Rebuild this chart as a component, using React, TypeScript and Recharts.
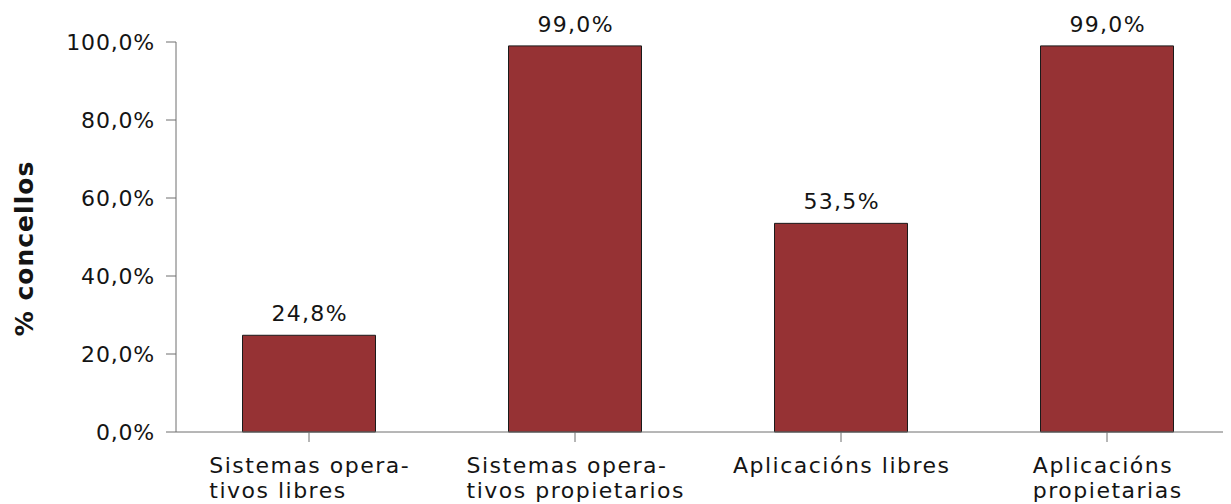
import React from "react";
import { BarChart, Bar, XAxis, YAxis, LabelList, Label } from "recharts";

const categories = [
  "Sistemas opera-\ntivos libres",
  "Sistemas opera-\ntivos propietarios",
  "Aplicacións libres",
  "Aplicacións\npropietarias",
];
const values = [24.8, 99.0, 53.5, 99.0];
const yTicks = [0, 20, 40, 60, 80, 100];
const yLabel = "% concellos";

const data = categories.map((c, i) => ({ name: c, value: values[i] }));

const FONT = '"DejaVu Sans", Verdana, sans-serif';
const FS = 22;
const LS_X = 1.5;
const LS_Y = 0.8;
const LS_BAR = 1.3;
const TEXT = "#141414";
const AXIS = "#6e6e6e";

const fmt = (v: number) => v.toFixed(1).replace(".", ",") + "%";

let ctx: CanvasRenderingContext2D | null = null;
function measure(s: string) {
  if (!ctx) {
    const c = document.createElement("canvas");
    ctx = c.getContext("2d");
  }
  if (!ctx) return s.length * FS * 0.6;
  ctx.font = `${FS}px ${FONT}`;
  return ctx.measureText(s).width + LS_X * (s.length - 1);
}

const XTick = (props: any) => {
  const { x, y, payload } = props;
  const lines = String(payload.value).split("\n");
  const w = Math.max(...lines.map(measure));
  const sx = x - w / 2;
  return (
    <text x={sx} y={y} fill={TEXT} fontSize={FS} fontFamily={FONT} letterSpacing={LS_X} textAnchor="start">
      {lines.map((l, i) => (
        <tspan key={i} x={sx} dy={i === 0 ? 31 : 25}>
          {l}
        </tspan>
      ))}
    </text>
  );
};

const YTick = (props: any) => {
  const { x, y, payload } = props;
  return (
    <text x={x} y={y} dy={8} fill={TEXT} fontSize={FS} fontFamily={FONT} letterSpacing={LS_Y} textAnchor="end">
      {fmt(payload.value)}
    </text>
  );
};

const BarLabel = (props: any) => {
  const { x, y, width, value } = props;
  return (
    <text x={x + width / 2 + LS_BAR / 2} y={y - 14} fill={TEXT} fontSize={FS} fontFamily={FONT} letterSpacing={LS_BAR} textAnchor="middle">
      {fmt(value)}
    </text>
  );
};

const YLabel = () => {
  const cx = 25;
  const cy = 240.5;
  return (
    <text
      x={cx}
      y={cy}
      transform={`rotate(-90 ${cx} ${cy})`}
      textAnchor="middle"
      fill={TEXT}
      fontSize={25}
      fontWeight="bold"
      fontFamily={FONT}
      letterSpacing={1}
    >
      {yLabel}
    </text>
  );
};

export default function App() {
  return (
    <div style={{ width: 1223, height: 496, overflow: "hidden" }}>
      <BarChart
        width={1232}
        height={496}
        data={data}
        margin={{ top: 34, right: 0, bottom: 12, left: 48 }}
        barCategoryGap="25%"
      >
        <XAxis
          dataKey="name"
          height={60}
          tick={<XTick />}
          tickSize={10}
          tickMargin={0}
          axisLine={{ stroke: AXIS, strokeWidth: 1 }}
          tickLine={{ stroke: AXIS, strokeWidth: 1 }}
          interval={0}
        />
        <YAxis
          width={120}
          domain={[0, 100]}
          ticks={yTicks}
          tick={<YTick />}
          tickSize={10}
          tickMargin={11}
          axisLine={{ stroke: AXIS, strokeWidth: 1 }}
          tickLine={{ stroke: AXIS, strokeWidth: 1 }}
          interval={0}
        >
          <Label content={<YLabel />} />
        </YAxis>
        <Bar dataKey="value" fill="#963234" stroke="#1a1a1a" strokeWidth={1} isAnimationActive={false}>
          <LabelList dataKey="value" content={<BarLabel />} />
        </Bar>
      </BarChart>
    </div>
  );
}
